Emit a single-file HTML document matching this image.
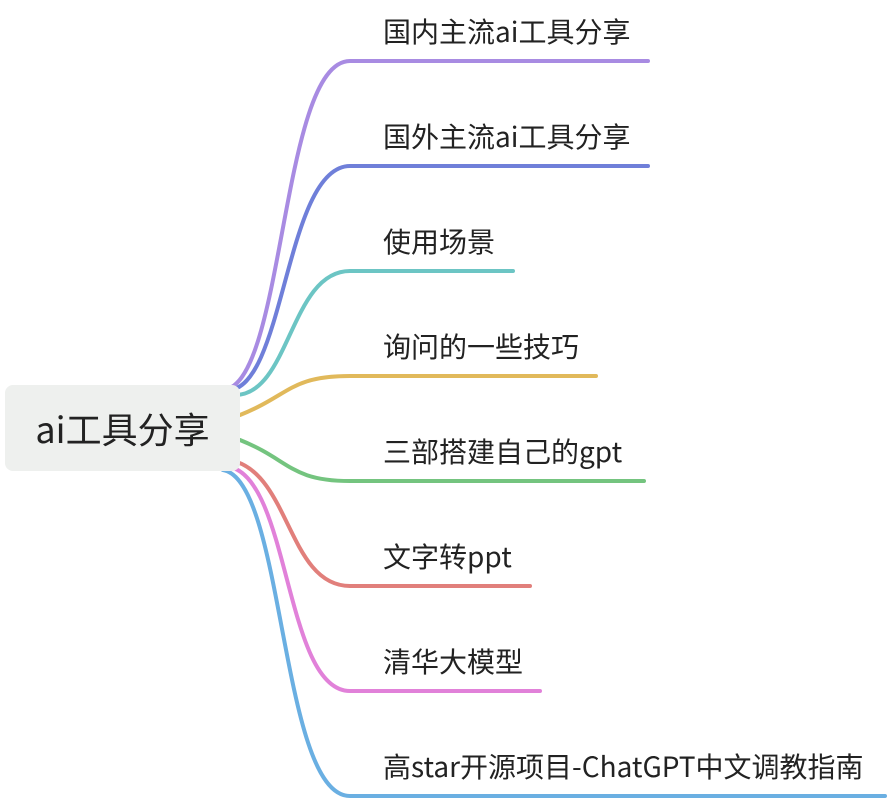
<!DOCTYPE html>
<html><head><meta charset="utf-8"><style>
body{margin:0;width:890px;height:800px;background:#fff;overflow:hidden;position:relative;font-family:"Noto Sans CJK SC","Liberation Sans",sans-serif;}
.node{position:absolute;left:5px;top:385px;width:235px;height:86px;background:#eef0ee;border-radius:8px;font-size:36px;color:#222;display:flex;align-items:center;justify-content:center;line-height:40px;}
.l{position:absolute;left:383px;font-size:28px;color:#222;white-space:nowrap;line-height:30px;}
</style></head><body>
<svg width="890" height="800" style="position:absolute;left:0;top:0" fill="none" stroke-width="4" stroke-linecap="round">
<path d="M222,390 C285,390 280,61 350,61 L648,61" stroke="#a88be2"/>
<path d="M228,390 C285,390 285,166 350,166 L648,166" stroke="#6f7fd9"/>
<path d="M235,395 C290,395 290,271 350,271 L513,271" stroke="#6cc5c4"/>
<path d="M240,415 C290,395 290,376 350,376 L596,376" stroke="#e1b95b"/>
<path d="M240,440 C290,460 290,481 350,481 L644,481" stroke="#74c47f"/>
<path d="M237,462 C290,480 290,586 350,586 L530,586" stroke="#e17f7b"/>
<path d="M230,467 C290,480 285,691 350,691 L540,691" stroke="#e181d9"/>
<path d="M223,470 C285,480 280,796 350,796 L885,796" stroke="#6aafe2"/>
</svg>
<div class="node">ai工具分享</div>
<div class="l" style="top:16px">国内主流ai工具分享</div>
<div class="l" style="top:121px">国外主流ai工具分享</div>
<div class="l" style="top:226px">使用场景</div>
<div class="l" style="top:331px">询问的一些技巧</div>
<div class="l" style="top:436px">三部搭建自己的gpt</div>
<div class="l" style="top:541px">文字转ppt</div>
<div class="l" style="top:646px">清华大模型</div>
<div class="l" style="top:751px">高star开源项目-ChatGPT中文调教指南</div>
</body></html>
